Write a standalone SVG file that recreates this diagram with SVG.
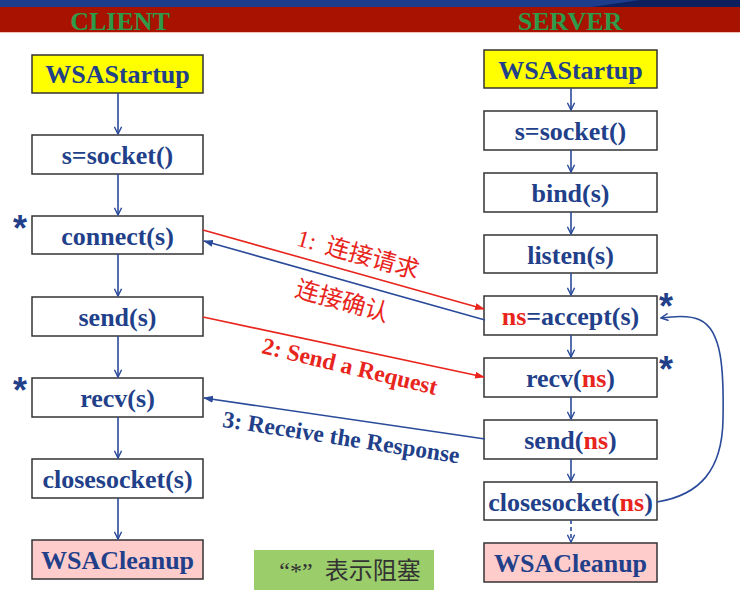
<svg xmlns="http://www.w3.org/2000/svg" width="740" height="592" viewBox="0 0 740 592">
<defs>
<style>
.box{stroke:#333;stroke-width:1.5;fill:#fff}
.start{fill:#ffff00}
.clean{fill:#ffcccc}
.t{font-family:"Liberation Serif","Times New Roman",serif;font-weight:bold;font-size:26px;fill:#223f8a;text-anchor:middle}
.r{fill:#e8251c}
.flow{stroke:#2a4a9a;stroke-width:1.6;fill:none;marker-end:url(#ah)}
.red{stroke:#e8251c;stroke-width:1.6;fill:none;marker-end:url(#ahr)}
.blue{stroke:#2a4a9a;stroke-width:1.6;fill:none;marker-end:url(#ahb)}
.star{font-family:"Liberation Sans",Arial,sans-serif;font-weight:bold;font-size:36px;fill:#223f8a}
.lbl{font-family:"Liberation Serif","Times New Roman",serif;font-weight:bold;font-size:23.5px}
.cn{font-family:"Noto Sans CJK SC",sans-serif;font-size:24px;fill:#e8251c}
.hd{font-family:"Liberation Serif","Times New Roman",serif;font-weight:bold;font-size:26px;fill:#2e9a4a;text-anchor:middle}
</style>
<marker id="ah" viewBox="0 0 10 10" refX="9" refY="5" markerWidth="9" markerHeight="9" markerUnits="userSpaceOnUse" orient="auto"><path d="M1,1 L9,5 L1,9" fill="none" stroke="#2a4a9a" stroke-width="1.6"/></marker>
<marker id="ahr" viewBox="0 0 10 10" refX="9" refY="5" markerWidth="10" markerHeight="10" markerUnits="userSpaceOnUse" orient="auto"><path d="M0,1.5 L10,5 L0,8.5 z" fill="#e8251c"/></marker>
<marker id="ahb" viewBox="0 0 10 10" refX="9" refY="5" markerWidth="10" markerHeight="10" markerUnits="userSpaceOnUse" orient="auto"><path d="M0,1.5 L10,5 L0,8.5 z" fill="#2a4a9a"/></marker>
</defs>

<g id="header">
<rect x="0" y="0" width="740" height="8" fill="#1c3c8c"/>
<polygon points="585,8 640,0 740,0 740,8" fill="#0d1f5c"/>
<rect x="0" y="7" width="740" height="25" fill="#a81200"/>
<rect x="0" y="32" width="740" height="1" fill="#f0c0b0"/>
<text class="hd" x="120" y="30">CLIENT</text>
<text class="hd" x="570" y="30">SERVER</text>
</g>

<g id="client-wsastartup"><rect class="box start" x="32" y="55" width="171" height="38"/><text class="t" x="117.5" y="83">WSAStartup</text></g>
<g id="client-socket"><rect class="box" x="32" y="135" width="171" height="39"/><text class="t" x="117.5" y="164">s=socket()</text></g>
<g id="client-connect"><rect class="box" x="32" y="216" width="171" height="38"/><text class="t" x="117.5" y="245">connect(s)</text><text class="star" x="13" y="241">*</text></g>
<g id="client-send"><rect class="box" x="32" y="297" width="171" height="39"/><text class="t" x="117.5" y="326">send(s)</text></g>
<g id="client-recv"><rect class="box" x="32" y="378" width="171" height="39"/><text class="t" x="117.5" y="407">recv(s)</text><text class="star" x="13" y="403">*</text></g>
<g id="client-close"><rect class="box" x="32" y="459" width="171" height="39"/><text class="t" x="117.5" y="488">closesocket(s)</text></g>
<g id="client-cleanup"><rect class="box clean" x="32" y="540" width="171" height="39"/><text class="t" x="117.5" y="569">WSACleanup</text></g>

<g id="server-wsastartup"><rect class="box start" x="484" y="50" width="173" height="38"/><text class="t" x="570.5" y="79">WSAStartup</text></g>
<g id="server-socket"><rect class="box" x="484" y="111" width="173" height="39"/><text class="t" x="570.5" y="140">s=socket()</text></g>
<g id="server-bind"><rect class="box" x="484" y="173" width="173" height="39"/><text class="t" x="570.5" y="202">bind(s)</text></g>
<g id="server-listen"><rect class="box" x="484" y="235" width="173" height="38"/><text class="t" x="570.5" y="264">listen(s)</text></g>
<g id="server-accept"><rect class="box" x="484" y="296" width="173" height="39"/><text class="t" x="570.5" y="325"><tspan class="r">ns</tspan>=accept(s)</text><text class="star" x="659" y="319">*</text></g>
<g id="server-recv"><rect class="box" x="484" y="358" width="173" height="39"/><text class="t" x="570.5" y="387">recv(<tspan class="r">ns</tspan>)</text><text class="star" x="659" y="382">*</text></g>
<g id="server-send"><rect class="box" x="484" y="420" width="173" height="39"/><text class="t" x="570.5" y="449">send(<tspan class="r">ns</tspan>)</text></g>
<g id="server-close"><rect class="box" x="484" y="482" width="173" height="38"/><text class="t" x="570.5" y="511">closesocket(<tspan class="r">ns</tspan>)</text></g>
<g id="server-cleanup"><rect class="box clean" x="484" y="543" width="173" height="39"/><text class="t" x="570.5" y="572">WSACleanup</text></g>

<g id="legend"><rect x="254" y="550" width="180" height="40" fill="#9bcd6b"/><text x="350" y="579" font-family="Liberation Serif,'Noto Sans CJK SC',serif" font-size="24" fill="#333" text-anchor="middle" xml:space="preserve">“*”  表示阻塞</text></g>

<g id="connectors">
<line class="flow" x1="118" y1="93" x2="118" y2="134"/>
<line class="flow" x1="118" y1="174" x2="118" y2="215"/>
<line class="flow" x1="118" y1="254" x2="118" y2="296"/>
<line class="flow" x1="118" y1="336" x2="118" y2="377"/>
<line class="flow" x1="118" y1="417" x2="118" y2="458"/>
<line class="flow" x1="118" y1="498" x2="118" y2="539"/>

<line class="flow" x1="571" y1="88" x2="571" y2="110"/>
<line class="flow" x1="571" y1="150" x2="571" y2="172"/>
<line class="flow" x1="571" y1="212" x2="571" y2="234"/>
<line class="flow" x1="571" y1="273" x2="571" y2="295"/>
<line class="flow" x1="571" y1="335" x2="571" y2="357"/>
<line class="flow" x1="571" y1="397" x2="571" y2="419"/>
<line class="flow" x1="571" y1="459" x2="571" y2="481"/>
<line class="flow" x1="571" y1="520" x2="571" y2="542" stroke-dasharray="4,3"/>

<line class="red" x1="203" y1="230" x2="484" y2="309"/>
<line class="blue" x1="485" y1="320" x2="204" y2="241"/>
<line class="red" x1="203" y1="317" x2="484" y2="377"/>
<line class="blue" x1="485" y1="439" x2="204" y2="398"/>
<path class="flow" d="M657,502 C700,495 722,470 723,420 C724,370 722,330 700,320 C690,315 675,316 661,318"/>
</g>

<g id="labels">
<text class="cn" transform="translate(356,262) rotate(15.6)" text-anchor="middle" xml:space="preserve"><tspan font-family="Liberation Serif,serif">1:</tspan>  连接请求</text>
<text class="cn" transform="translate(340,309) rotate(15.6)" text-anchor="middle">连接确认</text>
<text class="lbl" fill="#e8251c" transform="translate(348,374) rotate(13.5)" text-anchor="middle">2: Send a Request</text>
<text class="lbl" fill="#223f8a" transform="translate(340,445) rotate(8.8)" text-anchor="middle">3: Receive the Response</text>
</g>
</svg>
